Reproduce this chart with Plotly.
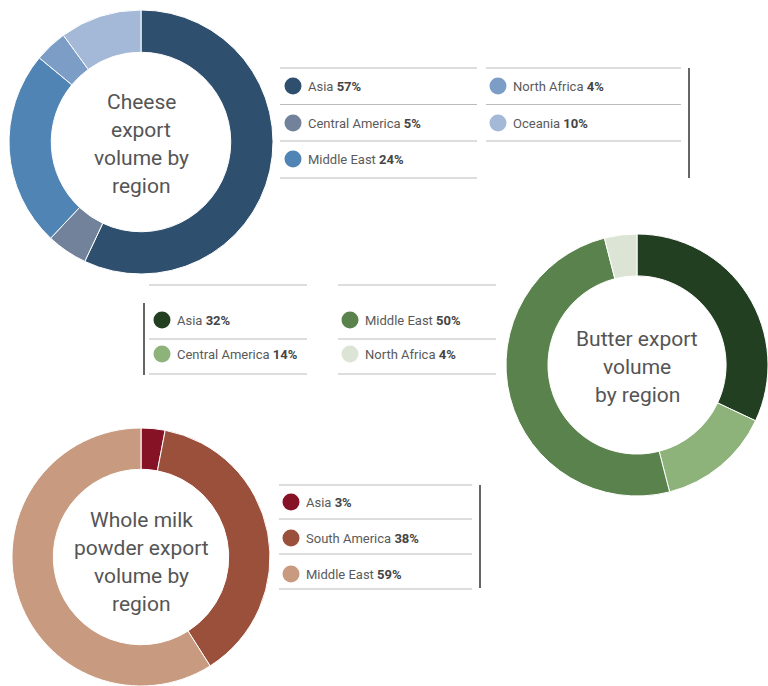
import plotly.graph_objects as go

W, H = 768, 686

# ---- data ----
cheese_regions = ["Asia", "Central America", "Middle East", "North Africa", "Oceania"]
cheese_values = [57, 5, 24, 4, 10]
cheese_colors = ["#2e4f6d", "#72829b", "#4f84b5", "#7b9dc6", "#a4b9d7"]
cheese_title = ["Cheese", "export", "volume by", "region"]

butter_regions = ["Asia", "Central America", "Middle East", "North Africa"]
butter_values = [32, 14, 50, 4]
butter_colors = ["#233f22", "#8db37b", "#5a824c", "#dce5d5"]
butter_title = ["Butter export", "volume", "by region"]

milk_regions = ["Asia", "South America", "Middle East"]
milk_values = [3, 38, 59]
milk_colors = ["#861226", "#9b503b", "#c89a80"]
milk_title = ["Whole milk", "powder export", "volume by", "region"]

TEXT_FONT = "Roboto"
LEG_FONT = "Roboto"

fig = go.Figure()


def add_donut(values, labels, colors, cx, cy, r, title_lines):
    x0, x1 = (cx - r) / W, (cx + r) / W
    y0, y1 = 1 - (cy + r) / H, 1 - (cy - r) / H
    x0, x1 = max(0, x0), min(1, x1)
    y0, y1 = max(0, y0), min(1, y1)
    fig.add_trace(go.Pie(
        values=values, labels=labels, hole=0.68, sort=False,
        direction="clockwise", rotation=0,
        marker=dict(colors=colors, line=dict(color="white", width=1)),
        textinfo="none", hoverinfo="label+percent", showlegend=False,
        domain=dict(x=[x0, x1], y=[y0, y1]),
    ))
    step = 28.3
    n = len(title_lines)
    for k, line in enumerate(title_lines):
        yy = cy + 2 + (k - (n - 1) / 2) * step
        fig.add_annotation(x=cx, y=yy, xref="x", yref="y", text=line,
                           showarrow=False, align="center",
                           font=dict(family=TEXT_FONT, size=21, color="#555555"))


def hline(x0, x1, y, color="#bbbbbb", width=1):
    fig.add_shape(type="line", x0=x0, x1=x1, y0=y, y1=y, xref="x", yref="y",
                  line=dict(color=color, width=width))


def vline(x, y0, y1):
    fig.add_shape(type="line", x0=x, x1=x, y0=y0, y1=y1, xref="x", yref="y",
                  line=dict(color="#333333", width=1.5))


def legend_item(mx, ty, label, value, color):
    rr = 8.5
    fig.add_shape(type="circle", x0=mx - rr, x1=mx + rr, y0=ty - rr, y1=ty + rr,
                  xref="x", yref="y", fillcolor=color, line=dict(width=0))
    fig.add_annotation(x=mx + 13, y=ty, xref="x", yref="y", xanchor="left",
                       text=f"{label} <b><span style='color:#444444'>{value}%</span></b>",
                       showarrow=False,
                       font=dict(family=LEG_FONT, size=13, color="#5a5a5a"))


# ---- cheese ----
add_donut(cheese_values, cheese_regions, cheese_colors, 141, 142, 132, cheese_title)
rows_c = [86, 123, 159]
cols_c = [(280, 477, 293), (486, 681, 498)]
for i, (lab, val, col) in enumerate(zip(cheese_regions, cheese_values, cheese_colors)):
    c = 0 if i < 3 else 1
    r = i if i < 3 else i - 3
    legend_item(cols_c[c][2], rows_c[r], lab, val, col)
for y in [68, 104.5, 141, 178]:
    hline(280, 477, y)
for y in [68, 104.5, 141]:
    hline(486, 681, y)
vline(689, 68, 178)

# ---- butter ----
add_donut(butter_values, butter_regions, butter_colors, 637, 365, 131, butter_title)
rows_b = [320, 354]
cols_b = [(149, 307, 162), (338, 496, 350)]
for i, (lab, val, col) in enumerate(zip(butter_regions, butter_values, butter_colors)):
    c = i // 2
    r = i % 2
    legend_item(cols_b[c][2], rows_b[r], lab, val, col)
for (a, b, _) in cols_b:
    for y in [285, 339, 374]:
        hline(a, b, y)
vline(144, 303, 375)

# ---- whole milk powder ----
add_donut(milk_values, milk_regions, milk_colors, 141, 560, 132, milk_title)
rows_m = [502, 538, 574]
for i, (lab, val, col) in enumerate(zip(milk_regions, milk_values, milk_colors)):
    legend_item(291, rows_m[i], lab, val, col)
for y in [485, 519, 554, 589]:
    hline(279, 472, y)
vline(480, 485, 588)

fig.update_layout(
    width=W, height=H, margin=dict(l=0, r=0, t=0, b=0),
    paper_bgcolor="white", plot_bgcolor="white",
    xaxis=dict(range=[0, W], visible=False, fixedrange=True, domain=[0, 1]),
    yaxis=dict(range=[H, 0], visible=False, fixedrange=True, domain=[0, 1]),
    showlegend=False,
)

fig.write_html("out.html", config={"displayModeBar": False},
               post_script="document.body.style.margin='0';document.body.style.overflow='hidden';")
